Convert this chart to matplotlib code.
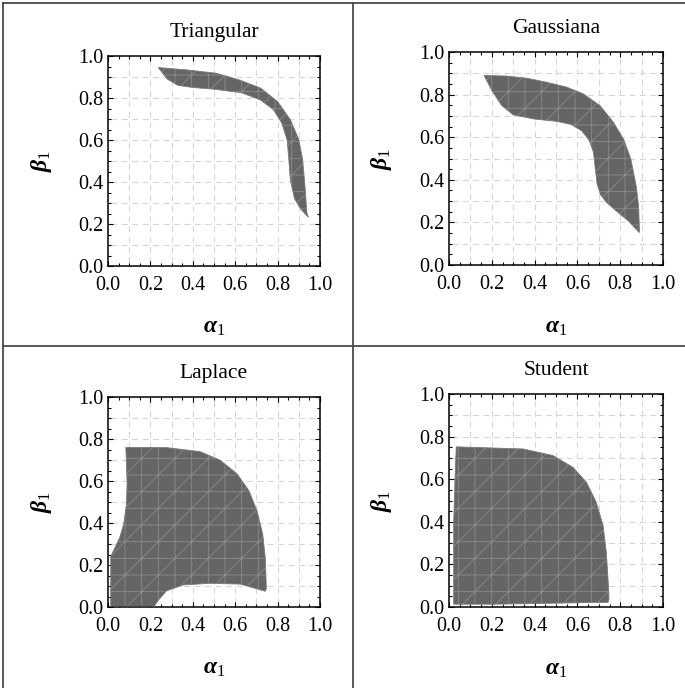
import numpy as np
import matplotlib
matplotlib.use("Agg")
import matplotlib.pyplot as plt
from matplotlib.lines import Line2D
from matplotlib.ticker import MultipleLocator

plt.rcParams['font.family'] = 'Liberation Serif'
plt.rcParams['mathtext.fontset'] = 'custom'
plt.rcParams['mathtext.rm'] = 'Liberation Serif'
plt.rcParams['mathtext.it'] = 'Liberation Serif:italic:bold'
plt.rcParams['mathtext.bf'] = 'Liberation Serif:bold'
plt.rcParams['hatch.linewidth'] = 0.6
plt.rcParams['lines.scale_dashes'] = False

# region boundaries (alpha_1, beta_1)
tri_a = [0.237, 0.37, 0.51, 0.62, 0.72, 0.80, 0.86, 0.90, 0.918, 0.929, 0.938, 0.945,
         0.91, 0.88, 0.86, 0.853, 0.845, 0.82, 0.78, 0.72, 0.63, 0.50, 0.40, 0.33, 0.28]
tri_b = [0.945, 0.934, 0.918, 0.886, 0.847, 0.783, 0.697, 0.602, 0.507, 0.381, 0.254, 0.232,
         0.27, 0.32, 0.41, 0.507, 0.60, 0.68, 0.745, 0.79, 0.825, 0.842, 0.85, 0.86, 0.89]

gau_a = [0.164, 0.269, 0.363, 0.456, 0.55, 0.628, 0.706, 0.769, 0.816, 0.85, 0.875, 0.886, 0.89,
         0.889, 0.84, 0.78, 0.735, 0.708, 0.692, 0.684, 0.675, 0.655, 0.62, 0.57, 0.50, 0.40,
         0.30, 0.245, 0.20]
gau_b = [0.89, 0.887, 0.877, 0.858, 0.835, 0.803, 0.748, 0.669, 0.59, 0.496, 0.37, 0.276, 0.165,
         0.152, 0.205, 0.255, 0.295, 0.33, 0.38, 0.45, 0.53, 0.585, 0.63, 0.66, 0.675, 0.685,
         0.705, 0.75, 0.82]

lap_a = [0.084, 0.276, 0.434, 0.529, 0.608, 0.664, 0.703, 0.73, 0.742, 0.747,
         0.742, 0.624, 0.482, 0.355, 0.276, 0.237, 0.216,
         0.013, 0.013, 0.032, 0.055, 0.074, 0.087, 0.09, 0.087]
lap_b = [0.76, 0.759, 0.74, 0.699, 0.635, 0.555, 0.458, 0.346, 0.233, 0.088,
         0.075, 0.109, 0.113, 0.105, 0.077, 0.032, 0.0,
         0.0, 0.241, 0.281, 0.33, 0.394, 0.49, 0.587, 0.683]

stu_a = [0.034, 0.346, 0.486, 0.579, 0.642, 0.688, 0.72, 0.735, 0.743, 0.748,
         0.743, 0.60, 0.40, 0.20, 0.022, 0.022, 0.028]
stu_b = [0.752, 0.742, 0.711, 0.656, 0.586, 0.492, 0.383, 0.258, 0.133, 0.039,
         0.022, 0.02, 0.016, 0.013, 0.013, 0.40, 0.60]

titles = ['Triangular', 'Gaussiana', 'Laplace', 'Student']
regions = [(tri_a, tri_b), (gau_a, gau_b), (lap_a, lap_b), (stu_a, stu_b)]
ticks = [0.0, 0.2, 0.4, 0.6, 0.8, 1.0]
grid_vals = np.arange(0.1, 1.0, 0.1)

W, H = 685, 688
# axes boxes in pixels: left, top, right, bottom
boxes = [(108, 56, 320, 266), (449, 52, 663, 265),
         (108, 397, 320, 607), (449, 394, 663, 607)]

fig = plt.figure(figsize=(W / 100, H / 100), dpi=100)

for (l, t, r, b), title, (ra, rb) in zip(boxes, titles, regions):
    ax = fig.add_axes([l / W, 1 - b / H, (r - l) / W, (b - t) / H])
    ax.set_xlim(0, 1)
    ax.set_ylim(0, 1)
    for g in grid_vals:
        ax.axvline(g, color='#d6d6d6', lw=0.8, ls=(5.4, (4.3, 3.2)), zorder=0)
        ax.axhline(g, color='#d6d6d6', lw=0.8, ls=(5.4, (4.3, 3.2)), zorder=0)
    ax.fill(ra, rb, facecolor='#656565', edgecolor='#8c8c8c', linewidth=0.0,
            hatch='/+', zorder=2)
    ax.fill(ra, rb, facecolor='none', edgecolor='#7a7a7a', linewidth=0.6, zorder=3)

    ax.set_xticks(ticks)
    ax.set_yticks(ticks)
    ax.set_xticklabels([f'{v:.1f}' for v in ticks])
    ax.set_yticklabels([f'{v:.1f}' for v in ticks])
    ax.xaxis.set_minor_locator(MultipleLocator(0.05))
    ax.yaxis.set_minor_locator(MultipleLocator(0.05))
    ax.tick_params(which='both', direction='in', top=True, right=True,
                   labelsize=14.5, width=0.8, colors='black')
    ax.tick_params(which='major', length=3.6)
    ax.tick_params(which='minor', length=2.2)
    ax.tick_params(axis='x', pad=7)
    ax.tick_params(axis='y', pad=3.5)
    for s in ax.spines.values():
        s.set_linewidth(1.1)

    ax.set_xlabel(r'$\alpha_1$', fontsize=17)
    ax.set_ylabel(r'$\beta_1$', fontsize=17)
    ax.xaxis.set_label_coords(0.5, -0.245)
    ax.yaxis.set_label_coords(-0.255, 0.5)
    ax.text(0.5, 1.11, title, transform=ax.transAxes, ha='center', va='center',
            fontsize=15.5)

# table frame lines
frame = dict(color='#4a4a4a', lw=1.3, transform=fig.transFigure)
fig.add_artist(Line2D([3 / W, 3 / W], [0, 1 - 3 / H], **frame))
fig.add_artist(Line2D([3 / W, 1], [1 - 3 / H, 1 - 3 / H], **frame))
fig.add_artist(Line2D([353 / W, 353 / W], [0, 1 - 3 / H], **frame))
fig.add_artist(Line2D([3 / W, 1], [1 - 346 / H, 1 - 346 / H], **frame))

plt.savefig('out.png', dpi=100)
